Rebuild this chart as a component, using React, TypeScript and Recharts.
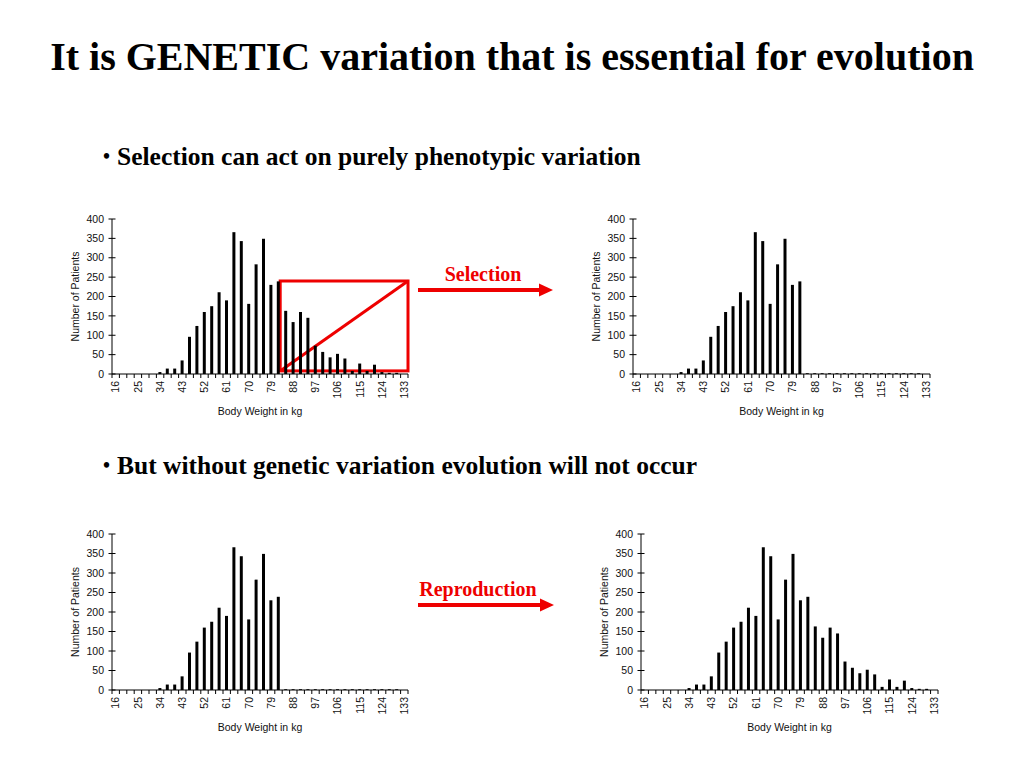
import { BarChart, Bar, XAxis, YAxis, ReferenceArea } from 'recharts';

// body weight classes (kg), one bar each
const weights = [
    16, 19, 22, 25, 28, 31, 34, 37, 40, 43, 46, 49, 52, 55, 58, 61, 64, 67, 70, 73,
    76, 79, 82, 85, 88, 91, 94, 97, 100, 103, 106, 109, 112, 115, 118, 121, 124, 127, 130, 133,
];

// whole population
const fullCounts = [
    0, 0, 0, 0, 0, 0, 5, 14, 14, 35, 96, 124, 160, 175, 211, 190, 366, 343, 181, 283,
    349, 230, 239, 163, 134, 160, 145, 73, 57, 43, 52, 40, 8, 27, 8, 24, 5, 3, 3, 0,
];

// after the heavy ones are removed
const selectedCounts = [
    0, 0, 0, 0, 0, 0, 5, 14, 14, 35, 96, 124, 160, 175, 211, 190, 366, 343, 181, 283,
    349, 230, 239, 2, 2, 2, 2, 2, 2, 2, 2, 2, 2, 2, 2, 2, 2, 2, 2, 0,
];

const xTickLabels = [16, 25, 34, 43, 52, 61, 70, 79, 88, 97, 106, 115, 124, 133];
const yTicks = [0, 50, 100, 150, 200, 250, 300, 350, 400];

// red box over the removed part of the distribution
const cutFrom = 85;
const cutTo = 133;
const cutLow = 8;
const cutHigh = 240;

const RED = '#ee0000';
const AXIS_FONT = '"Liberation Sans", Arial, sans-serif';
const SERIF = '"Liberation Serif", "Times New Roman", serif';

const XTick = (props: any) => {
    const { x, y, payload, index, bw } = props;
    const showLabel = xTickLabels.includes(payload.value);
    return (
        <g>
            <line x1={x - bw / 2} x2={x - bw / 2} y1={y} y2={y + 4} stroke="#000" />
            {index === weights.length - 1 && (
                <line x1={x + bw / 2} x2={x + bw / 2} y1={y} y2={y + 4} stroke="#000" />
            )}
            {showLabel && (
                <text
                    x={x}
                    y={y + 7}
                    transform={`rotate(-90, ${x}, ${y + 7})`}
                    textAnchor="end"
                    dy="0.35em"
                    fontSize={10.5}
                    fontFamily={AXIS_FONT}
                    fill="#111"
                >
                    {payload.value}
                </text>
            )}
        </g>
    );
};

const YTick = (props: any) => {
    const { x, y, payload } = props;
    return (
        <g>
            <line x1={x - 3.5} x2={x + 3.5} y1={y} y2={y} stroke="#000" />
            <text x={x - 8} y={y} dy="0.35em" textAnchor="end" fontSize={10.5} fontFamily={AXIS_FONT} fill="#111">
                {payload.value}
            </text>
        </g>
    );
};

const SelectionBox = (props: any) => {
    const { x, y, width, height } = props;
    return (
        <g>
            <rect x={x - 2} y={y} width={width + 2} height={height} fill="none" stroke={RED} strokeWidth={3} />
            <line x1={x - 2} y1={y + height} x2={x + width} y2={y} stroke={RED} strokeWidth={3} />
        </g>
    );
};

function Histogram({ counts, left, top, plotWidth, plotHeight, showCut }: any) {
    const yAxisWidth = 52;
    const marginTop = 10;
    const marginRight = 12;
    const xAxisHeight = 45;
    const data = weights.map((w, i) => ({ w, n: counts[i] }));
    const bw = plotWidth / weights.length;

    return (
        <div style={{ position: 'absolute', left, top }}>
            <BarChart
                width={yAxisWidth + plotWidth + marginRight}
                height={marginTop + plotHeight + xAxisHeight}
                data={data}
                margin={{ top: marginTop, right: marginRight, bottom: 0, left: 0 }}
                barCategoryGap="27%"
            >
                <XAxis
                    dataKey="w"
                    interval={0}
                    height={xAxisHeight}
                    tickSize={0}
                    tickMargin={0}
                    tickLine={false}
                    axisLine={{ stroke: '#000' }}
                    tick={(p: any) => <XTick {...p} bw={bw} />}
                    label={{
                        value: 'Body Weight in kg',
                        position: 'insideBottom',
                        offset: 4,
                        style: { fontSize: 10.5, fontFamily: AXIS_FONT, fill: '#111' },
                    }}
                />
                <YAxis
                    width={yAxisWidth}
                    domain={[0, 400]}
                    ticks={yTicks}
                    interval={0}
                    tickSize={0}
                    tickMargin={0}
                    tickLine={false}
                    axisLine={{ stroke: '#000' }}
                    tick={(p: any) => <YTick {...p} />}
                    label={{
                        value: 'Number of Patients',
                        angle: -90,
                        position: 'insideLeft',
                        offset: 15,
                        style: { textAnchor: 'middle', fontSize: 10.5, fontFamily: AXIS_FONT, fill: '#111' },
                    }}
                />
                <Bar dataKey="n" fill="#000" isAnimationActive={false} />
                {showCut && (
                    <ReferenceArea x1={cutFrom} x2={cutTo} y1={cutLow} y2={cutHigh} shape={(p: any) => <SelectionBox {...p} />} />
                )}
            </BarChart>
        </div>
    );
}

function Arrow({ left, top, width }: any) {
    return (
        <svg style={{ position: 'absolute', left, top }} width={width} height={16}>
            <line x1={0} y1={8} x2={width - 12} y2={8} stroke={RED} strokeWidth={4} />
            <polygon points={`${width - 14},1.5 ${width},8 ${width - 14},14.5`} fill={RED} />
        </svg>
    );
}

export default function App() {
    const bulletText = {
        position: 'absolute' as const,
        left: 103,
        fontSize: 25.5,
        lineHeight: '26px',
        fontWeight: 'bold' as const,
        whiteSpace: 'nowrap' as const,
    };
    const bullet = { fontSize: 20, marginRight: 7, position: 'relative' as const, top: -2 };
    return (
        <div
            style={{
                position: 'absolute',
                left: 0,
                top: 0,
                width: 1024,
                height: 768,
                background: '#fff',
                overflow: 'hidden',
                fontFamily: SERIF,
            }}
        >
            <div
                style={{
                    position: 'absolute',
                    left: 0,
                    width: 1024,
                    top: 37,
                    textAlign: 'center',
                    fontSize: 40,
                    lineHeight: '40px',
                    fontWeight: 'bold',
                    color: '#000',
                }}
            >
                It is GENETIC variation that is essential for evolution
            </div>

            <div style={{ ...bulletText, top: 144 }}>
                <span style={bullet}>•</span>Selection can act on purely phenotypic variation
            </div>
            <div style={{ ...bulletText, top: 453 }}>
                <span style={bullet}>•</span>But without genetic variation evolution will not occur
            </div>

            <Histogram counts={fullCounts} left={60} top={209} plotWidth={296} plotHeight={155} showCut />
            <Histogram counts={selectedCounts} left={581} top={209} plotWidth={297} plotHeight={155} />
            <Histogram counts={selectedCounts} left={60} top={524} plotWidth={296} plotHeight={156} />
            <Histogram counts={fullCounts} left={589} top={524} plotWidth={297} plotHeight={156} />

            <div
                style={{
                    position: 'absolute',
                    left: 423,
                    width: 120,
                    top: 264,
                    textAlign: 'center',
                    fontSize: 20,
                    lineHeight: '20px',
                    fontWeight: 'bold',
                    color: RED,
                }}
            >
                Selection
            </div>
            <Arrow left={418} top={282} width={135} />

            <div
                style={{
                    position: 'absolute',
                    left: 408,
                    width: 140,
                    top: 579,
                    textAlign: 'center',
                    fontSize: 20,
                    lineHeight: '20px',
                    fontWeight: 'bold',
                    color: RED,
                }}
            >
                Reproduction
            </div>
            <Arrow left={418} top={597} width={136} />
        </div>
    );
}
